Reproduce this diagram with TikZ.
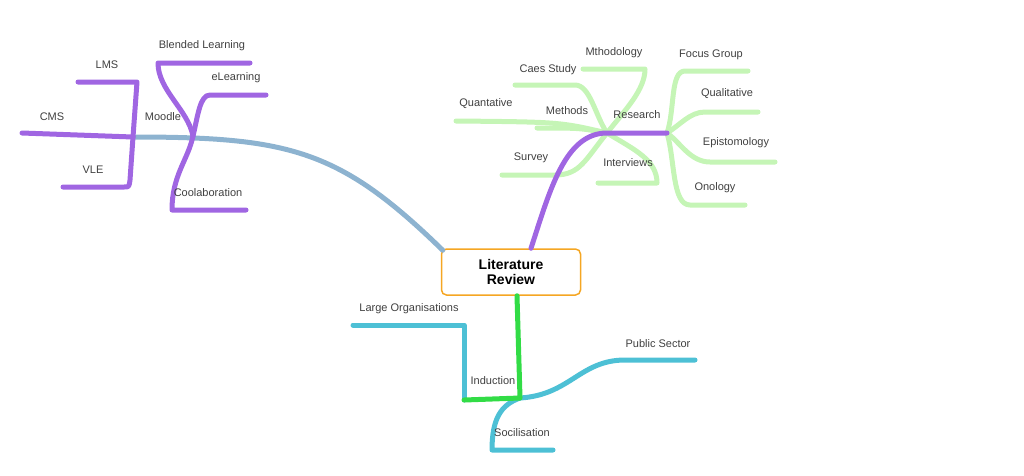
\documentclass[tikz,border=0pt]{standalone}
\usepackage{fontspec}
\setmainfont{Liberation Sans}
\usetikzlibrary{positioning}
\definecolor{violetline}{RGB}{160,102,226}
\definecolor{blueline}{RGB}{141,179,208}
\definecolor{paleline}{RGB}{197,245,182}
\definecolor{greenline}{RGB}{50,220,70}
\definecolor{cyanline}{RGB}{77,192,213}
\definecolor{boxorange}{RGB}{245,166,35}
\tikzset{
  lbl/.style={inner sep=1pt, text=black!75, font=\fontsize{11}{13}\selectfont},
  br/.style={line width=5pt, line cap=round, line join=round},
}
\begin{document}
\begin{tikzpicture}[x=1pt, y=-1pt]
			\useasboundingbox (0,0) rectangle (1024,475);
			\node[draw=boxorange, line width=1.5pt, rounded corners=5pt, minimum width=139pt, minimum height=46pt, align=center, font=\bfseries\fontsize{14}{15}\selectfont, inner sep=2pt] (lit) at (511,272) {Literature\\Review};

			\coordinate (moodle) at (133,137);
			\coordinate (moodlej) at (193,136);
			\coordinate (research) at (667,133);
			\coordinate (methods) at (607,133);
			\coordinate (induction) at (520,398);

			% moodle branch
			\draw[br, blueline] (lit.north west) ++(2,2) coordinate (bstart) .. controls (340,150) and (290,137) .. (moodle);
			\draw[br, violetline] (moodle) -- (22,133);
			\draw[br, violetline] (moodle) -- (137,82) -- (78,82);
			\draw[br, violetline] (moodle) -- (130,180) .. controls (129,187) .. (124,187) -- (63,187);
			\draw[br, violetline] (moodlej) .. controls (188,110) and (158,90) .. (158,63) -- (250,63);
			\draw[br, violetline] (moodlej) .. controls (198,115) and (200,95) .. (210,95) -- (266,95);
			\draw[br, violetline] (moodlej) .. controls (188,160) and (172,175) .. (172,210) -- (246,210);
			\node[lbl] (lmsl) at (107,65) {LMS};
			\node[lbl] (cmsl) at (52,117) {CMS};
			\node[lbl] (vlel) at (93,170) {VLE};
			\node[lbl] (moodlel) at (163,117) {Moodle};
			\node[lbl] (blendl) at (202,46) {Blended Learning};
			\node[lbl] (elearnl) at (236,78) {eLearning};
			\node[lbl] (coolabl) at (208,193) {Coolaboration};

			% research branch
			\draw[br, paleline] (research) .. controls (675,110) and (670,71) .. (685,71) -- (748,71);
			\draw[br, paleline] (research) .. controls (680,125) and (690,112) .. (705,112) -- (758,112);
			\draw[br, paleline] (research) .. controls (680,142) and (690,162) .. (710,162) -- (775,162);
			\draw[br, paleline] (research) .. controls (675,160) and (672,205) .. (690,205) -- (745,205);
			\draw[br, paleline] (methods) .. controls (625,110) and (645,90) .. (645,69) -- (583,69);
			\draw[br, paleline] (methods) .. controls (595,115) and (590,85) .. (575,85) -- (515,85);
			\draw[br, paleline] (methods) .. controls (580,128) .. (537,128);
			\draw[br, paleline] (methods) .. controls (560,122) .. (456,121);
			\draw[br, paleline] (methods) .. controls (585,160) and (580,175) .. (555,175) -- (502,175);
			\draw[br, paleline] (methods) .. controls (635,150) and (657,160) .. (657,183) -- (598,183);
			\draw[br, violetline] (lit.north) ++(20,0) coordinate (rstart) .. controls (550,190) and (565,133) .. (methods) -- (research);
			\node[lbl] (focusl) at (711,55) {Focus Group};
			\node[lbl] (quall) at (727,94) {Qualitative};
			\node[lbl] (epistl) at (736,143) {Epistomology};
			\node[lbl] (onol) at (715,188) {Onology};
			\node[lbl] (researchl) at (637,115) {Research};
			\node[lbl] (mthodl) at (614,53) {Mthodology};
			\node[lbl] (caesl) at (548,70) {Caes Study};
			\node[lbl] (methodsl) at (567,111) {Methods};
			\node[lbl] (quantl) at (486,104) {Quantative};
			\node[lbl] (surveyl) at (531,158) {Survey};
			\node[lbl] (intervl) at (628,163) {Interviews};

			% induction branch
			\draw[br, cyanline] (464,400) -- (464,325) -- (353,325);
			\draw[br, cyanline] (induction) .. controls (570,395) and (580,360) .. (625,360) -- (695,360);
			\draw[br, cyanline] (induction) .. controls (500,405) and (492,420) .. (492,450) -- (553,450);
			\draw[br, greenline] (lit.south) ++(6,0) coordinate (istart) -- (induction) -- (464,400);
			\node[lbl] (largel) at (409,309) {Large Organisations};
			\node[lbl] (publicl) at (658,344) {Public Sector};
			\node[lbl] (inductl) at (493,381) {Induction};
			\node[lbl] (socill) at (522,433) {Socilisation};
		\end{tikzpicture}
\end{document}
